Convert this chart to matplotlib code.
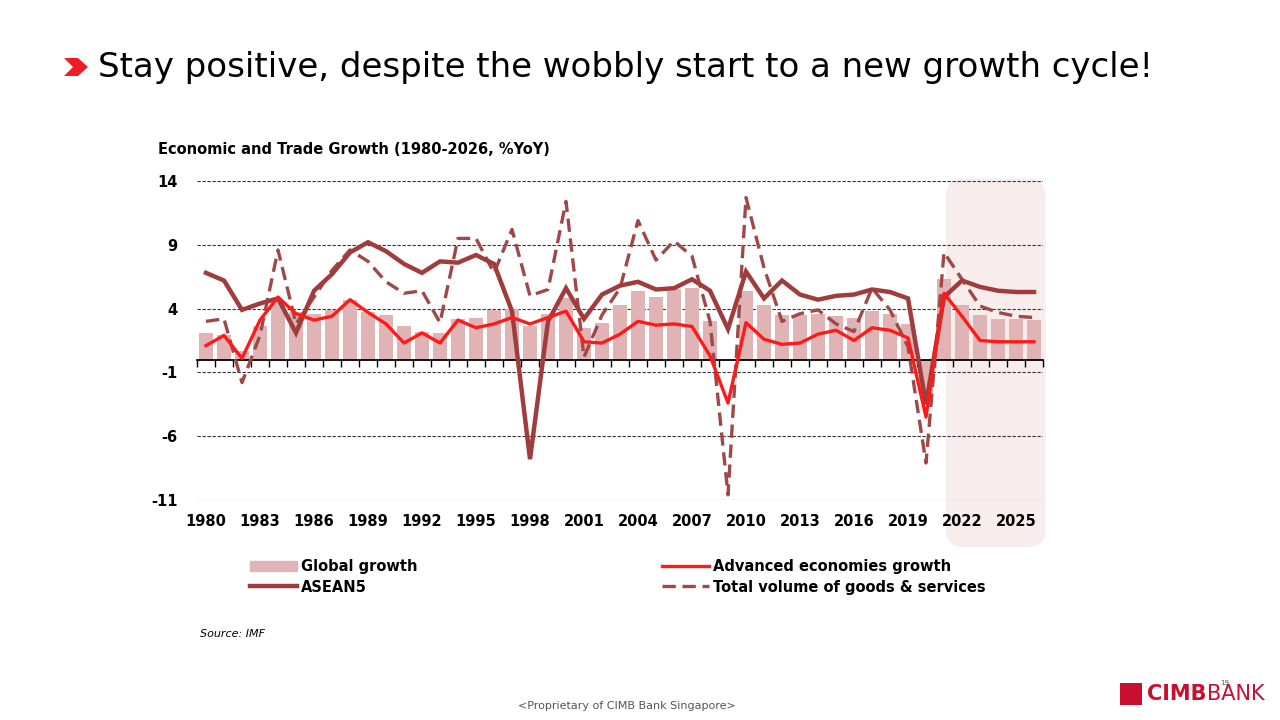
import matplotlib
matplotlib.use("Agg")
import matplotlib.pyplot as plt
from matplotlib.patches import FancyBboxPatch, Polygon, Rectangle
from matplotlib.lines import Line2D

years = list(range(1980, 2027))
global_growth = [2.1,1.9,0.7,2.6,4.6,3.7,3.6,3.9,4.7,3.7,3.5,2.6,2.2,2.1,3.2,3.3,3.9,4.0,2.6,3.6,
                 4.8,2.5,2.9,4.3,5.4,4.9,5.5,5.6,3.0,-0.1,5.4,4.3,3.5,3.5,3.6,3.4,3.3,3.8,3.6,2.8,
                 -2.8,6.3,4.3,3.5,3.2,3.2,3.1]
advanced = [1.1,1.9,0.1,3.1,4.9,3.6,3.1,3.4,4.7,3.7,2.8,1.3,2.1,1.3,3.1,2.5,2.8,3.3,2.8,3.3,
            3.8,1.4,1.3,2.0,3.0,2.7,2.8,2.6,0.3,-3.4,2.9,1.6,1.2,1.3,2.0,2.3,1.5,2.5,2.3,1.7,
            -4.5,5.2,3.4,1.5,1.4,1.4,1.4]
asean5 = [6.8,6.2,3.9,4.4,4.8,2.1,5.4,6.7,8.4,9.2,8.5,7.5,6.8,7.7,7.6,8.2,7.5,3.8,-7.8,3.0,
          5.6,3.2,5.1,5.8,6.1,5.5,5.6,6.3,5.4,2.4,6.9,4.8,6.2,5.1,4.7,5.0,5.1,5.5,5.3,4.8,
          -3.5,4.9,6.2,5.7,5.4,5.3,5.3]
trade = [3.0,3.2,-1.8,1.9,8.6,2.8,4.9,7.0,8.6,7.7,6.1,5.2,5.4,2.9,9.5,9.5,6.8,10.2,5.0,5.5,
         12.4,0.2,3.5,5.6,10.9,7.8,9.3,8.1,3.0,-10.6,12.7,7.2,3.0,3.6,3.9,2.8,2.2,5.6,3.9,1.0,
         -8.1,8.4,6.3,4.2,3.7,3.4,3.3]
yticks = [14, 9, 4, -1, -6, -11]
xlabels = list(range(1980, 2027, 3))

BAR = "#e0b4b4"; ASE = "#a03c3c"; ADV = "#ff1a1a"; TRD = "#a04848"

fig = plt.figure(figsize=(12.8, 7.2), dpi=100)
ax = fig.add_axes([197/1280, 1-500/720, 846/1280, 319/720])
ax.set_xlim(1979.5, 2026.5)
ax.set_ylim(-11, 14)

# shaded forecast box
box = FancyBboxPatch((2021.1, -14.7), 5.55, 28.9, boxstyle="round,pad=0,rounding_size=1.0",
                     mutation_aspect=18/12.75, transform=ax.transData, facecolor="#f8eded",
                     edgecolor="none", clip_on=False, zorder=0)
ax.add_patch(box)

for y in yticks:
    ax.axhline(y, color="#333333", lw=0.8, ls=(0, (3, 1.5)), zorder=1)
ax.bar(years, global_growth, width=0.75, color=BAR, zorder=2)
ax.plot(years, asean5, color=ASE, lw=3.2, zorder=4, solid_joinstyle="miter")
ax.plot(years, trade, color=TRD, lw=2.4, ls=(0, (4, 2)), zorder=3)
ax.plot(years, advanced, color=ADV, lw=2.4, zorder=5)

for s in ["top", "right", "left"]:
    ax.spines[s].set_visible(False)
ax.spines["bottom"].set_position(("data", 0))
ax.spines["bottom"].set_linewidth(1.3)
ax.set_xticks([y + 0.5 for y in years[:-1]] + [1979.5, 2026.5])
ax.tick_params(axis="x", direction="out", length=5, width=1, labelbottom=False)
ax.set_yticks(yticks)
ax.set_yticklabels([str(v) for v in yticks], fontsize=10.5, fontweight="bold")
ax.tick_params(axis="y", length=0, pad=14)
for y in xlabels:
    ax.text(y, -12.7, str(y), ha="center", va="center", fontsize=10.5, fontweight="bold")

fig.text(158/1280, 1-150/720, "Economic and Trade Growth (1980-2026, %YoY)", fontsize=10.5,
         fontweight="bold", va="center")
fig.text(98/1280, 1-67/720, "Stay positive, despite the wobbly start to a new growth cycle!",
         fontsize=24.5, va="center")
fig.patches.append(Polygon([[64/1280, 1-58/720], [78/1280, 1-58/720], [88/1280, 1-67/720],
                            [78/1280, 1-76/720], [64/1280, 1-76/720], [73/1280, 1-67/720]],
                           closed=True, transform=fig.transFigure, facecolor="#ee1c25"))

# legend
handles = [Rectangle((0, 0), 1, 1, color=BAR), Line2D([], [], color=ASE, lw=3.2),
           Line2D([], [], color=ADV, lw=2.4), Line2D([], [], color=TRD, lw=2.4, ls=(0, (4, 2)))]
labels = ["Global growth", "ASEAN5", "Advanced economies growth", "Total volume of goods & services"]
leg = fig.legend(handles, labels, loc="center", bbox_to_anchor=(618/1280, 1-577/720), ncol=2,
                 frameon=False, columnspacing=16.8, handlelength=3.2, handletextpad=0.3,
                 labelspacing=0.35, prop={"size": 10.5, "weight": "bold"})

fig.text(200/1280, 1-634/720, "Source: IMF", fontsize=8, style="italic", va="center")
fig.text(627/1280, 1-706/720, "<Proprietary of CIMB Bank Singapore>", fontsize=8, color="#555555",
         ha="center", va="center")
fig.text(1225/1280, 1-685/720, "19", fontsize=5, color="#555555", ha="center")
fig.patches.append(Rectangle((1120/1280, 1-705/720), 22/1280, 22/720, transform=fig.transFigure,
                             facecolor="#c8102e"))
fig.text(1147/1280, 1-694/720, "CIMB", fontsize=15, fontweight="bold", color="#c8102e", va="center")
fig.text(1207/1280, 1-694/720, "BANK", fontsize=15, color="#c8102e", va="center")

fig.savefig("out.png", dpi=100)
